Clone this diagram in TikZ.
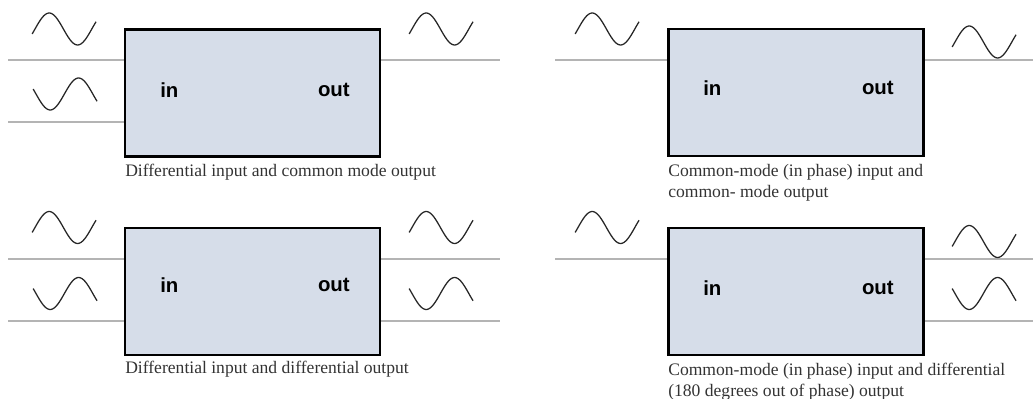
\documentclass[tikz,border=0pt]{standalone}
\usepackage{fontspec}
\setmainfont{Liberation Serif}
\setsansfont{Liberation Sans}
\usepackage{tikz}
\usepackage{xcolor}

\definecolor{boxfill}{HTML}{D6DDE9}
\definecolor{wiregray}{HTML}{B4B4B4}

\tikzset{
  amp/.style={draw, line width=2pt, fill=boxfill, minimum width=6.375cm, minimum height=3.175cm, inner sep=0pt},
  port/.style={font=\sffamily\bfseries\fontsize{14.5}{16}\selectfont, inner sep=0pt},
  caption/.style={font=\fontsize{12.5}{15}\selectfont, color=black!80, anchor=north west, align=left, inner sep=0pt},
  wire/.style={color=wiregray, line width=1pt},
  wave/.style={color=black!85, line width=0.9pt, smooth, samples=40}
}

\begin{document}
\begin{tikzpicture}[x=0.025cm, y=-0.025cm]

\useasboundingbox (0, 0) rectangle (1033, 399);

% top left: differential in, common mode out
\node[amp] (box a) at (252.5, 93) {};
\node[port, anchor=west] (in a) at (160, 90) {in};
\node[port, anchor=east] (out a) at (350, 90) {out};
\coordinate (wire a1) at (8, 60);
\coordinate (wire a2) at (8, 122);
\coordinate (wire a3) at (500, 60);
\draw[wire] (wire a1) -- (wire a1 -| box a.west) {};
\draw[wire] (wire a2) -- (wire a2 -| box a.west) {};
\draw[wire] (wire a3 -| box a.east) -- (wire a3) {};
\draw[wave] plot[domain=-0.1:2.15] ({35 + 28.4*\x}, {29 - 16*sin(\x*180)});
\draw[wave] plot[domain=-0.1:2.15] ({36 + 28.4*\x}, {94 + 16*sin(\x*180)});
\draw[wave] plot[domain=-0.1:2.15] ({412 + 28.4*\x}, {29 - 16*sin(\x*180)});
\node[caption] (caption a) at (125, 164) {Differential input and common mode output};

% top right: common mode in, common mode out
\node[amp] (box b) at (796, 92.5) {};
\node[port, anchor=west] (in b) at (703, 88) {in};
\node[port, anchor=east] (out b) at (894, 88) {out};
\coordinate (wire b1) at (555, 60);
\coordinate (wire b2) at (1033, 60);
\draw[wire] (wire b1) -- (wire b1 -| box b.west) {};
\draw[wire] (wire b2 -| box b.east) -- (wire b2) {};
\draw[wave] plot[domain=-0.1:2.15] ({578 + 28.4*\x}, {29 - 16*sin(\x*180)});
\draw[wave] plot[domain=-0.1:2.15] ({955 + 28.4*\x}, {42 - 16*sin(\x*180)});
\node[caption] (caption b) at (668, 164) {Common-mode (in phase) input and\\common- mode output};

% bottom left: differential in, differential out
\node[amp] (box c) at (252.5, 291.5) {};
\node[port, anchor=west] (in c) at (160, 285) {in};
\node[port, anchor=east] (out c) at (350, 285) {out};
\coordinate (wire c1) at (8, 259);
\coordinate (wire c2) at (8, 321);
\coordinate (wire c3) at (500, 259);
\coordinate (wire c4) at (500, 321);
\draw[wire] (wire c1) -- (wire c1 -| box c.west) {};
\draw[wire] (wire c2) -- (wire c2 -| box c.west) {};
\draw[wire] (wire c3 -| box c.east) -- (wire c3) {};
\draw[wire] (wire c4 -| box c.east) -- (wire c4) {};
\draw[wave] plot[domain=-0.1:2.15] ({35 + 28.4*\x}, {227.5 - 16*sin(\x*180)});
\draw[wave] plot[domain=-0.1:2.15] ({36 + 28.4*\x}, {293.5 + 16*sin(\x*180)});
\draw[wave] plot[domain=-0.1:2.15] ({412 + 28.4*\x}, {227.5 - 16*sin(\x*180)});
\draw[wave] plot[domain=-0.1:2.15] ({412 + 28.4*\x}, {293.5 + 16*sin(\x*180)});
\node[caption] (caption c) at (125, 361) {Differential input and differential output};

% bottom right: common mode in, differential out
\node[amp] (box d) at (796, 291.5) {};
\node[port, anchor=west] (in d) at (703, 288) {in};
\node[port, anchor=east] (out d) at (894, 288) {out};
\coordinate (wire d1) at (555, 259);
\coordinate (wire d2) at (1033, 259);
\coordinate (wire d3) at (1033, 321);
\draw[wire] (wire d1) -- (wire d1 -| box d.west) {};
\draw[wire] (wire d2 -| box d.east) -- (wire d2) {};
\draw[wire] (wire d3 -| box d.east) -- (wire d3) {};
\draw[wave] plot[domain=-0.1:2.15] ({578 + 28.4*\x}, {227.5 - 16*sin(\x*180)});
\draw[wave] plot[domain=-0.1:2.15] ({955 + 28.4*\x}, {241.5 - 16*sin(\x*180)});
\draw[wave] plot[domain=-0.1:2.15] ({955 + 28.4*\x}, {293.5 + 16*sin(\x*180)});
\node[caption] (caption d) at (668, 363) {Common-mode (in phase) input and differential\\(180 degrees out of phase) output};

\end{tikzpicture}
\end{document}
